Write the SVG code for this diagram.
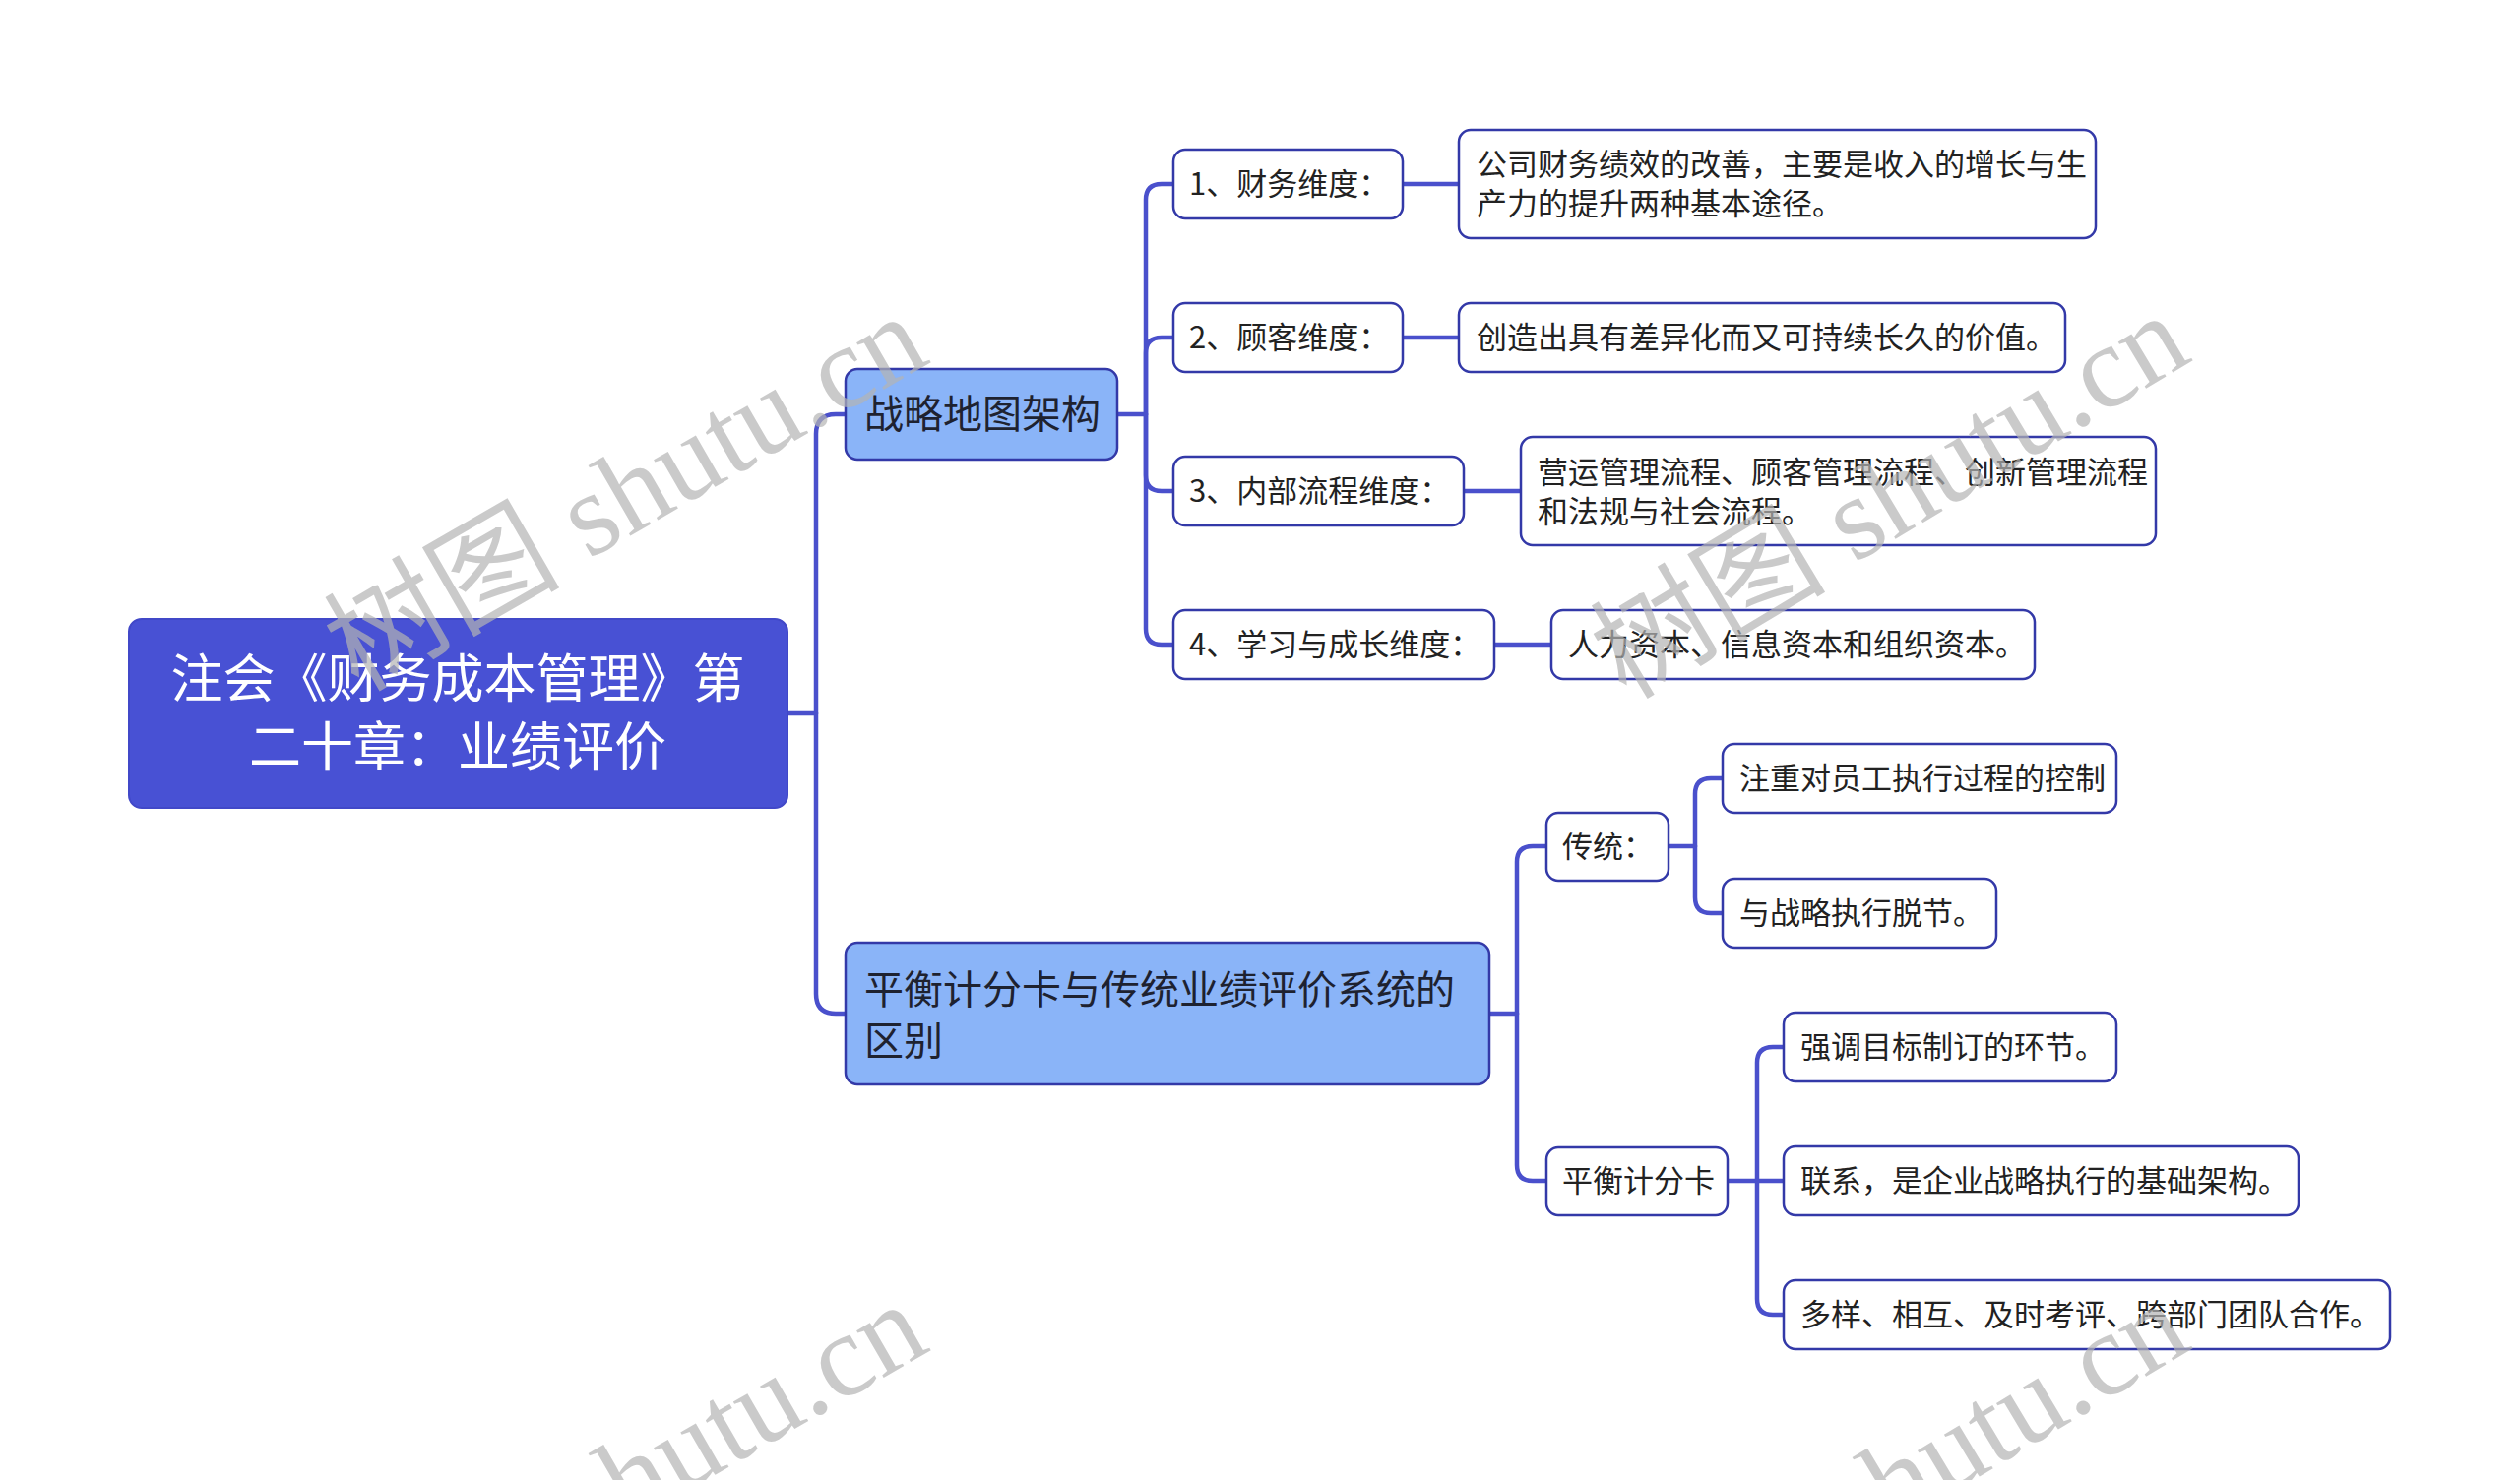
<svg xmlns="http://www.w3.org/2000/svg" width="2560" height="1504" viewBox="0 0 2560 1504">
<style>
text{font-family:"Noto Sans CJK SC","Noto Sans",sans-serif}
.root rect{fill:#4851d4;stroke:#4148c8;stroke-width:2}
.root text{fill:#ffffff;font-size:53px;text-anchor:middle}
.l1 rect{fill:#8ab4f8;stroke:#3339a8;stroke-width:2.5}
.l1 text{fill:#1e2230;font-size:40px}
.n rect{fill:#ffffff;stroke:#3339a8;stroke-width:2.5}
.n text{fill:#222222;font-size:31px}
.c path{fill:none;stroke:#4a50cc;stroke-width:4.5;stroke-linecap:round}
.wm{font-family:"Liberation Serif","DejaVu Serif",serif;font-size:120px;fill:#b4b4b4;fill-opacity:0.7}
.wm tspan.cjk{font-family:"Noto Sans CJK SC",serif}
</style>
<rect x="0" y="0" width="2560" height="1504" fill="#ffffff"/>
<g id="connectors" class="c">
<path d="M800,725 H829"/>
<path d="M829,725 V441 Q829,421 849,421 H859"/>
<path d="M829,725 V1010 Q829,1030 849,1030 H859"/>
<path d="M1135,421 H1164"/>
<path d="M1164,421 V203 Q1164,187 1180,187 H1192"/>
<path d="M1164,421 V359 Q1164,343 1180,343 H1192"/>
<path d="M1164,421 V483 Q1164,499 1180,499 H1192"/>
<path d="M1164,421 V639 Q1164,655 1180,655 H1192"/>
<path d="M1425,187 H1482"/>
<path d="M1425,343 H1482"/>
<path d="M1487,499 H1545"/>
<path d="M1518,655 H1576"/>
<path d="M1513,1030 H1541"/>
<path d="M1541,1030 V876 Q1541,860 1557,860 H1571"/>
<path d="M1541,1030 V1184 Q1541,1200 1557,1200 H1571"/>
<path d="M1695,860 H1722"/>
<path d="M1722,860 V807 Q1722,791 1738,791 H1750"/>
<path d="M1722,860 V912 Q1722,928 1738,928 H1750"/>
<path d="M1755,1200 H1812"/>
<path d="M1785,1200 V1080 Q1785,1064 1801,1064 H1812"/>
<path d="M1785,1200 V1320 Q1785,1336 1801,1336 H1812"/>
</g>
<g id="root" class="root">
<rect x="131" y="629" width="669" height="192" rx="13"/>
<text x="465" y="709">注会《财务成本管理》第</text>
<text x="465" y="778">二十章：业绩评价</text>
</g>
<g id="n1" class="l1">
<rect x="859" y="375" width="276" height="92" rx="12"/>
<text x="878" y="435">战略地图架构</text>
</g>
<g id="n2" class="l1">
<rect x="859" y="958" width="654" height="144" rx="12"/>
<text x="878" y="1020">平衡计分卡与传统业绩评价系统的</text>
<text x="878" y="1072">区别</text>
</g>
<g id="n1a" class="n">
<rect x="1192" y="152" width="233" height="70" rx="12"/>
<text x="1208" y="198">1、财务维度：</text>
</g>
<g id="n1b" class="n">
<rect x="1192" y="308" width="233" height="70" rx="12"/>
<text x="1208" y="354">2、顾客维度：</text>
</g>
<g id="n1c" class="n">
<rect x="1192" y="464" width="295" height="70" rx="12"/>
<text x="1208" y="510">3、内部流程维度：</text>
</g>
<g id="n1d" class="n">
<rect x="1192" y="620" width="326" height="70" rx="12"/>
<text x="1208" y="666">4、学习与成长维度：</text>
</g>
<g id="n1a1" class="n">
<rect x="1482" y="132" width="647" height="110" rx="12"/>
<text x="1500" y="178">公司财务绩效的改善，主要是收入的增长与生</text>
<text x="1500" y="218">产力的提升两种基本途径。</text>
</g>
<g id="n1b1" class="n">
<rect x="1482" y="308" width="616" height="70" rx="12"/>
<text x="1500" y="354">创造出具有差异化而又可持续长久的价值。</text>
</g>
<g id="n1c1" class="n">
<rect x="1545" y="444" width="645" height="110" rx="12"/>
<text x="1562" y="491">营运管理流程、顾客管理流程、创新管理流程</text>
<text x="1562" y="531">和法规与社会流程。</text>
</g>
<g id="n1d1" class="n">
<rect x="1576" y="620" width="491" height="70" rx="12"/>
<text x="1593" y="666">人力资本、信息资本和组织资本。</text>
</g>
<g id="n2a" class="n">
<rect x="1571" y="826" width="124" height="69" rx="12"/>
<text x="1587" y="871">传统：</text>
</g>
<g id="n2b" class="n">
<rect x="1571" y="1166" width="184" height="69" rx="12"/>
<text x="1587" y="1211">平衡计分卡</text>
</g>
<g id="n2a1" class="n">
<rect x="1750" y="756" width="400" height="70" rx="12"/>
<text x="1767" y="802">注重对员工执行过程的控制</text>
</g>
<g id="n2a2" class="n">
<rect x="1750" y="893" width="278" height="70" rx="12"/>
<text x="1767" y="939">与战略执行脱节。</text>
</g>
<g id="n2b1" class="n">
<rect x="1812" y="1029" width="338" height="70" rx="12"/>
<text x="1829" y="1075">强调目标制订的环节。</text>
</g>
<g id="n2b2" class="n">
<rect x="1812" y="1165" width="523" height="70" rx="12"/>
<text x="1829" y="1211">联系，是企业战略执行的基础架构。</text>
</g>
<g id="n2b3" class="n">
<rect x="1812" y="1301" width="616" height="70" rx="12"/>
<text x="1829" y="1347">多样、相互、及时考评、跨部门团队合作。</text>
</g>
<g id="watermarks">
<text class="wm" transform="translate(364,704) rotate(-30)"><tspan class="cjk">树图</tspan> shutu.cn</text>
<text class="wm" transform="translate(1652,712) rotate(-31)"><tspan class="cjk">树图</tspan> shutu.cn</text>
<text class="wm" transform="translate(364,1708) rotate(-30)"><tspan class="cjk">树图</tspan> shutu.cn</text>
<text class="wm" transform="translate(1652,1716) rotate(-31)"><tspan class="cjk">树图</tspan> shutu.cn</text>
</g>
</svg>
